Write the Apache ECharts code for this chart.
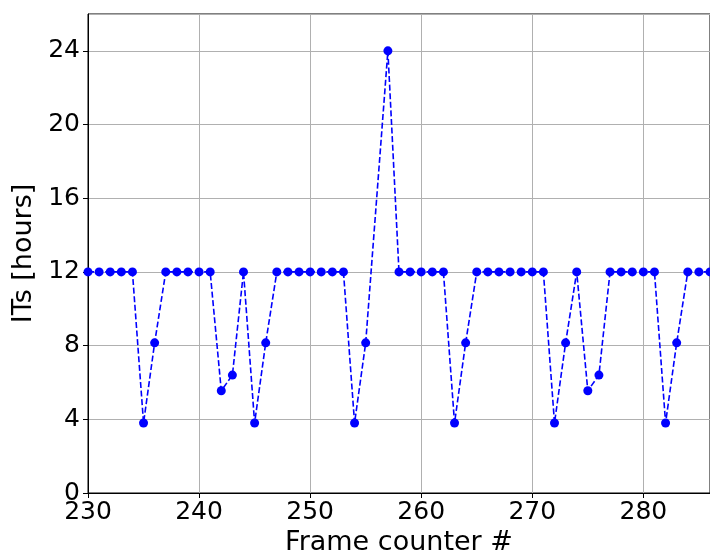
<!DOCTYPE html>
<html>
<head>
<meta charset="utf-8">
<script src="https://cdn.jsdelivr.net/npm/echarts@6/dist/echarts.min.js"></script>
<style>
  html, body { margin: 0; padding: 0; background: #fff; }
  #Line1 { width: 710px; height: 553px; }
</style>
</head>
<body>
<div id="Line1"></div>
<script>
// frame counter (256 has no sample)
var frames = [230, 231, 232, 233, 234, 235, 236, 237, 238, 239, 240, 241, 242, 243, 244, 245, 246, 247, 248, 249,
    250, 251, 252, 253, 254, 255, 257, 258, 259, 260, 261, 262, 263, 264, 265, 266, 267, 268, 269, 270,
    271, 272, 273, 274, 275, 276, 277, 278, 279, 280, 281, 282, 283, 284, 285, 286];
var hours = [12, 12, 12, 12, 12, 3.8, 8.15, 12, 12, 12, 12, 12, 5.55, 6.4, 12, 3.8, 8.15, 12, 12, 12,
    12, 12, 12, 12, 3.8, 8.15, 24, 12, 12, 12, 12, 12, 3.8, 8.15, 12, 12, 12, 12, 12, 12,
    12, 3.8, 8.15, 12, 5.55, 6.4, 12, 12, 12, 12, 12, 3.8, 8.15, 12, 12, 12];

var font = 'DejaVu Sans';

function showLine1() {
    var myChart = echarts.init(document.getElementById('Line1'));
    var pts = frames.map(function (f, i) { return [f, hours[i]]; });
    var option = {
        animation: false,
        grid: {
            left: 88, top: 14, right: 0, bottom: 60,
            outerBoundsMode: 'none',
            show: true, borderColor: '#000', borderWidth: 1
        },
        xAxis: {
            type: 'value',
            min: 230, max: 286, interval: 10,
            name: 'Frame counter #',
            nameLocation: 'middle',
            nameGap: 35,
            nameTextStyle: { fontFamily: font, fontSize: 27, color: '#000' },
            axisLine: { show: true, onZero: false, lineStyle: { color: '#000', width: 1 } },
            axisTick: { show: true, length: 5, lineStyle: { color: '#000' } },
            axisLabel: { fontFamily: font, fontSize: 25, color: '#000', margin: 7, showMaxLabel: false },
            splitLine: { show: true, lineStyle: { color: '#b0b0b0', width: 1 } }
        },
        yAxis: {
            type: 'value',
            min: 0, max: 26, interval: 4,
            name: 'ITs [hours]',
            nameLocation: 'middle',
            nameGap: 42,
            nameTextStyle: { fontFamily: font, fontSize: 27, color: '#000' },
            axisLine: { show: true, lineStyle: { color: '#000', width: 1 } },
            axisTick: { show: true, length: 5, lineStyle: { color: '#000' } },
            axisLabel: { fontFamily: font, fontSize: 25, color: '#000', margin: 8, showMaxLabel: false },
            splitLine: { show: true, lineStyle: { color: '#b0b0b0', width: 1 } }
        },
        series: [{
            type: 'line',
            data: pts,
            symbol: 'circle',
            symbolSize: 9,
            clip: false,
            itemStyle: { color: '#0000ff' },
            lineStyle: { color: '#0000ff', width: 1.6, type: [6, 2.6] }
        }]
    };
    myChart.setOption(option);
}

showLine1();
</script>
</body>
</html>
